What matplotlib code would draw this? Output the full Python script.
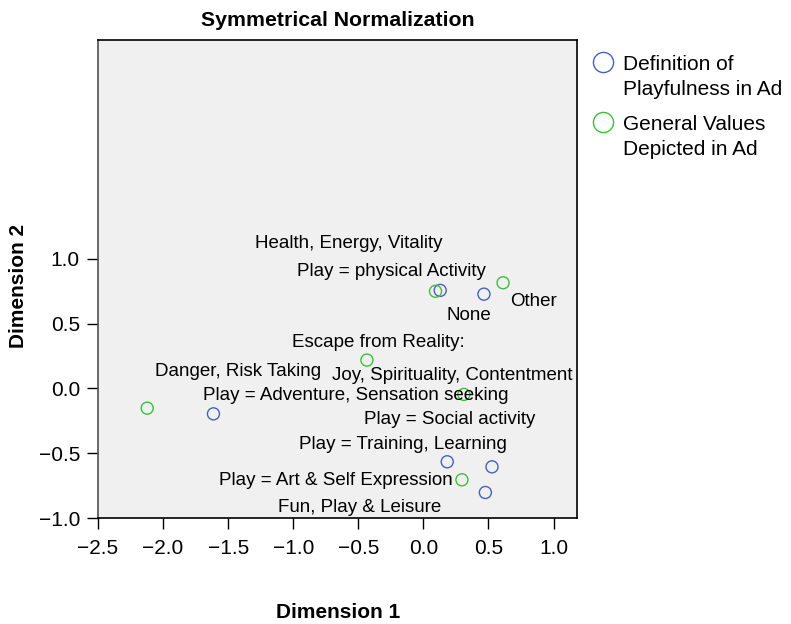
import matplotlib
matplotlib.use("Agg")
import matplotlib.pyplot as plt
from matplotlib.lines import Line2D

plt.rcParams['font.family'] = ['Liberation Sans', 'DejaVu Sans']

# Data
def_labels = ["Play = physical Activity", "None", "Play = Adventure, Sensation seeking",
              "Play = Social activity", "Play = Training, Learning", "Play = Art & Self Expression"]
def_x = [0.129, 0.465, -1.613, 0.527, 0.183, 0.476]
def_y = [0.757, 0.728, -0.196, -0.605, -0.566, -0.803]

val_labels = ["Health, Energy, Vitality", "Other", "Escape from Reality:",
              "Joy, Spirituality, Contentment", "Danger, Risk Taking", "Fun, Play & Leisure"]
val_x = [0.093, 0.612, -0.434, 0.311, -2.122, 0.296]
val_y = [0.750, 0.816, 0.219, -0.046, -0.152, -0.705]

legend_labels = ["Definition of\nPlayfulness in Ad", "General Values\nDepicted in Ad"]

x_ticks = [-2.5, -2.0, -1.5, -1.0, -0.5, 0.0, 0.5, 1.0]
y_ticks = [-1.0, -0.5, 0.0, 0.5, 1.0]

# label offsets in pixels (dx, dy; dy positive = up)
def_off = [(-49, 19), (-15, -21), (142, 18), (-42, 47), (-44, 17), (-149, 12)]
val_off = [(-87, 48), (30, -19), (11, 18), (-12, 19), (91, 37), (-102, -28)]

blue = '#4462c0'
green = '#3dbe3d'

W, H = 791, 624
fig = plt.figure(figsize=(W/100, H/100), dpi=100)
ax = fig.add_axes([98/W, 1-518/H, 479/W, 478/H])
ax.set_facecolor('#f0f0f0')

ax.scatter(def_x, def_y, s=75, facecolors='none', edgecolors=blue, linewidths=1.0, zorder=3)
ax.scatter(val_x, val_y, s=75, facecolors='none', edgecolors=green, linewidths=1.0, zorder=3)

for lab, x, y, (dx, dy) in zip(def_labels, def_x, def_y, def_off):
    ax.annotate(lab, (x, y), xytext=(dx, dy), textcoords='offset pixels',
                ha='center', va='center', fontsize=13.5, color='black')
for lab, x, y, (dx, dy) in zip(val_labels, val_x, val_y, val_off):
    ax.annotate(lab, (x, y), xytext=(dx, dy), textcoords='offset pixels',
                ha='center', va='center', fontsize=13.5, color='black')

ax.set_xlim(-2.5, 1.18)
ax.set_ylim(-1.0, 2.69)
ax.set_xticks(x_ticks)
ax.set_yticks(y_ticks)
ax.set_xticklabels([f"{v:.1f}".replace('-', '\u2212') for v in x_ticks])
ax.set_yticklabels([f"{v:.1f}".replace('-', '\u2212') for v in y_ticks])
ax.tick_params(direction='out', length=8, width=1, labelsize=15)
ax.tick_params(axis='x', pad=7)
ax.tick_params(axis='y', pad=5)
for s in ax.spines.values():
    s.set_linewidth(1.2)
ax.spines['left'].set_color('#505050')

fig.text(338/W, 1-20/H, "Symmetrical Normalization", fontsize=15.3, fontweight='bold',
         ha='center', va='center')
fig.text(338/W, 1-612/H, "Dimension 1", fontsize=15, fontweight='bold',
         ha='center', va='center')
fig.text(19/W, 1-286/H, "Dimension 2", fontsize=15, fontweight='bold',
         ha='center', va='center', rotation=90)

# legend drawn manually
for i, (lab, col) in enumerate(zip(legend_labels, [blue, green])):
    my = 62 + 60 * i
    fig.add_artist(Line2D([603/W], [1-my/H], transform=fig.transFigure, marker='o',
                          linestyle='none', markersize=14.5, markerfacecolor='none',
                          markeredgecolor=col, markeredgewidth=1.0))
    fig.text(623/W, 1-(my+15)/H, lab, fontsize=15, ha='left', va='center', linespacing=1.35)

fig.savefig("out.png", dpi=100)
